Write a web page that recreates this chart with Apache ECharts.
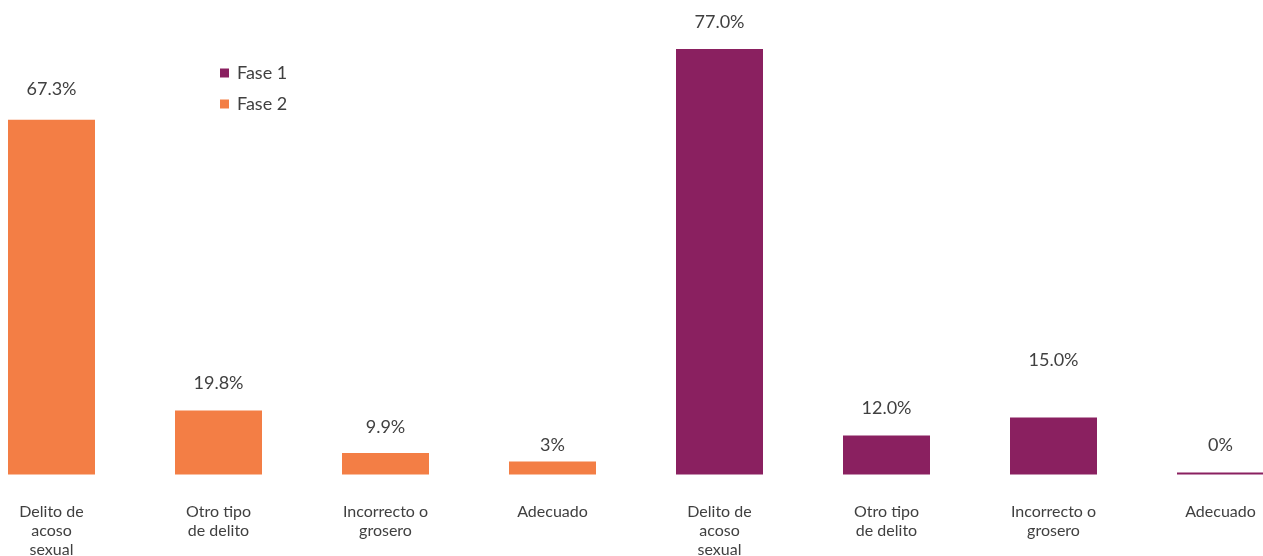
<!DOCTYPE html>
<html>
<head>
<meta charset="utf-8">
<script src="https://cdn.jsdelivr.net/npm/echarts@6/dist/echarts.min.js"></script>
<style>
html,body{margin:0;padding:0;background:#fff;overflow:hidden;width:1263px;height:556px;}
#chart{position:absolute;left:-32px;top:0;width:1336px;height:556px;}
</style>
</head>
<body>
<div id="chart"></div>
<script>
// Categories (two groups of four)
const categories = [
  "Delito de\nacoso\nsexual", "Otro tipo\nde delito", "Incorrecto o\ngrosero", "Adecuado",
  "Delito de\nacoso\nsexual", "Otro tipo\nde delito", "Incorrecto o\ngrosero", "Adecuado"
];
// Bar heights
const fase2Values = [64.2, 11.6, 3.9, 2.35, null, null, null, null];
const fase1Values = [null, null, null, null, 77.0, 7.05, 10.3, 0.35];
// Printed data labels
const fase2Labels = ["67.3%", "19.8%", "9.9%", "3%", "", "", "", ""];
const fase1Labels = ["", "", "", "", "77.0%", "12.0%", "15.0%", "0%"];
const seriesNames = ["Fase 1", "Fase 2"];

// style: label distance above each bar
const labelDist = [21, 17, 15.5, 6.5, 17, 17, 47, 17];

const FONT = "Lato";
const TEXT = "#404040";

function buildData(values, labels) {
  return values.map((v, i) => v === null ? null : {
    value: v,
    label: { distance: labelDist[i], formatter: labels[i] }
  });
}

const chart = echarts.init(document.getElementById('chart'));
chart.setOption({
  animation: false,
  textStyle: { fontFamily: FONT },
  legend: {
    orient: 'vertical',
    left: 247,
    top: 58,
    itemWidth: 9,
    itemHeight: 9,
    itemGap: 11,
    icon: 'rect',
    data: seriesNames,
    textStyle: { color: TEXT, fontSize: 18, fontFamily: FONT, fontWeight: 400, lineHeight: 20, padding: [0, 0, 0, 3] }
  },
  grid: { left: 0, right: 0, top: 32.5, bottom: 81.5, containLabel: false, outerBoundsMode: 'none' },
  xAxis: {
    type: 'category',
    data: categories,
    axisLine: { show: false },
    axisTick: { show: false },
    axisLabel: {
      interval: 0,
      margin: 27.5,
      color: TEXT,
      fontSize: 16,
      fontFamily: FONT,
      fontWeight: 400,
      lineHeight: 19,
      align: 'center'
    }
  },
  yAxis: {
    type: 'value',
    min: 0,
    max: 80,
    show: false,
    splitLine: { show: false }
  },
  series: [
    {
      name: seriesNames[0],
      type: 'bar',
      barWidth: 87,
      barGap: '-100%',
      itemStyle: { color: '#8A2060' },
      label: { show: true, position: 'top', color: TEXT, fontSize: 18, fontFamily: FONT, fontWeight: 400, lineHeight: 20 },
      data: buildData(fase1Values, fase1Labels)
    },
    {
      name: seriesNames[1],
      type: 'bar',
      barWidth: 87,
      barGap: '-100%',
      itemStyle: { color: '#F37E45' },
      label: { show: true, position: 'top', color: TEXT, fontSize: 18, fontFamily: FONT, fontWeight: 400, lineHeight: 20 },
      data: buildData(fase2Values, fase2Labels)
    }
  ]
});
</script>
</body>
</html>
